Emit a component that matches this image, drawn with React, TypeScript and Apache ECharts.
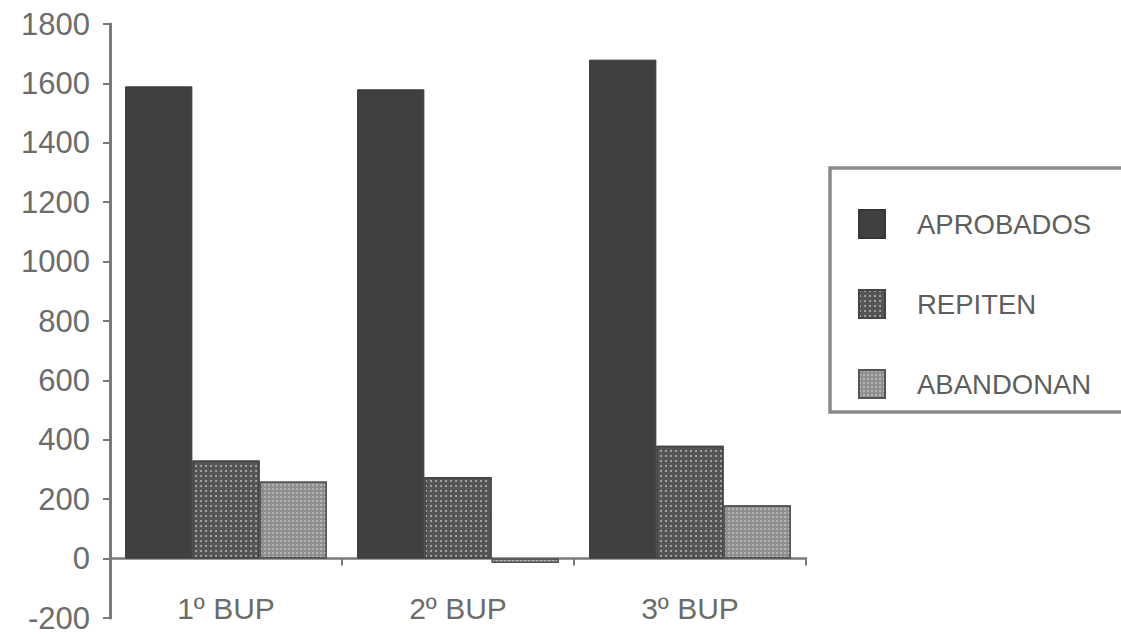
import React, { useEffect, useRef } from "react";
import * as echarts from "echarts";

const categories = ["1º BUP", "2º BUP", "3º BUP"];
const seriesNames = ["APROBADOS", "REPITEN", "ABANDONAN"];
const aprobados = [1590, 1580, 1680];
const repiten = [330, 275, 380];
const abandonan = [260, -15, 180];
const yMin = -200;
const yMax = 1800;
const yStep = 200;

const FONT = "Liberation Sans";
const TEXT = "#6c6c6c";
const AXIS = "#7a7a7a";

export default function App() {
  const ref = useRef<HTMLDivElement>(null);
  useEffect(() => {
    if (!ref.current) return;
    const chart = echarts.init(ref.current, undefined, { renderer: "svg" });
    chart.setOption({
      animation: false,
      backgroundColor: "#ffffff",
      grid: {
        left: 110,
        right: 315,
        top: 24,
        bottom: 17,
        containLabel: false,
        outerBoundsMode: "none",
      },
      graphic: [
        {
          type: "rect",
          z: 0,
          shape: { x: 830, y: 168, width: 320, height: 244 },
          style: { fill: "#ffffff", stroke: "#8a8a8a", lineWidth: 3.5 },
        },
      ],
      legend: {
        show: true,
        orient: "vertical",
        left: 858,
        top: 209,
        padding: 0,
        icon: "rect",
        itemWidth: 26,
        itemHeight: 28,
        itemGap: 50,
        z: 10,
        data: seriesNames,
        textStyle: {
          fontFamily: FONT,
          fontSize: 27.5,
          color: "#5e5e5e",
          lineHeight: 28,
          padding: [0, 0, 0, 27],
        },
      },
      xAxis: {
        type: "category",
        data: categories,
        axisLine: { onZero: true, lineStyle: { color: AXIS, width: 2.5 } },
        axisTick: { show: true, length: 7, lineStyle: { color: AXIS, width: 2 } },
        axisLabel: { margin: -25, fontFamily: FONT, fontSize: 30, color: TEXT },
        splitLine: { show: false },
      },
      yAxis: {
        type: "value",
        min: yMin,
        max: yMax,
        interval: yStep,
        axisLine: { show: true, lineStyle: { color: AXIS, width: 3 } },
        axisTick: { show: true, length: 7, lineStyle: { color: AXIS, width: 2 } },
        axisLabel: {
          margin: 20,
          fontFamily: FONT,
          fontSize: 31,
          color: TEXT,
          formatter: (v: number) => String(v),
        },
        splitLine: { show: false },
      },
      series: [
        {
          name: seriesNames[0],
          type: "bar",
          data: aprobados,
          barGap: "0%",
          barCategoryGap: "13%",
          itemStyle: { color: "#404040", borderColor: "#383838", borderWidth: 1 },
        },
        {
          name: seriesNames[1],
          type: "bar",
          data: repiten,
          barGap: "0%",
          barCategoryGap: "13%",
          itemStyle: {
            color: "#555555",
            borderColor: "#444444",
            borderWidth: 1.5,
            decal: {
              symbol: "circle",
              symbolSize: 0.9,
              color: "rgba(255,255,255,0.6)",
              dashArrayX: [2, 3],
              dashArrayY: [2, 3],
              rotation: 0,
            },
          },
        },
        {
          name: seriesNames[2],
          type: "bar",
          data: abandonan,
          barGap: "0%",
          barCategoryGap: "13%",
          itemStyle: {
            color: "#8f8f8f",
            borderColor: "#555555",
            borderWidth: 1.5,
            decal: {
              symbol: "circle",
              symbolSize: 0.9,
              color: "rgba(255,255,255,0.45)",
              dashArrayX: [1.5, 1.5],
              dashArrayY: [1.5, 1.5],
              rotation: 0,
            },
          },
        },
      ],
    });
    return () => chart.dispose();
  }, []);
  return (
    <div
      ref={ref}
      style={{ position: "fixed", left: 0, top: 0, width: 1121, height: 635, background: "#fff" }}
    />
  );
}
